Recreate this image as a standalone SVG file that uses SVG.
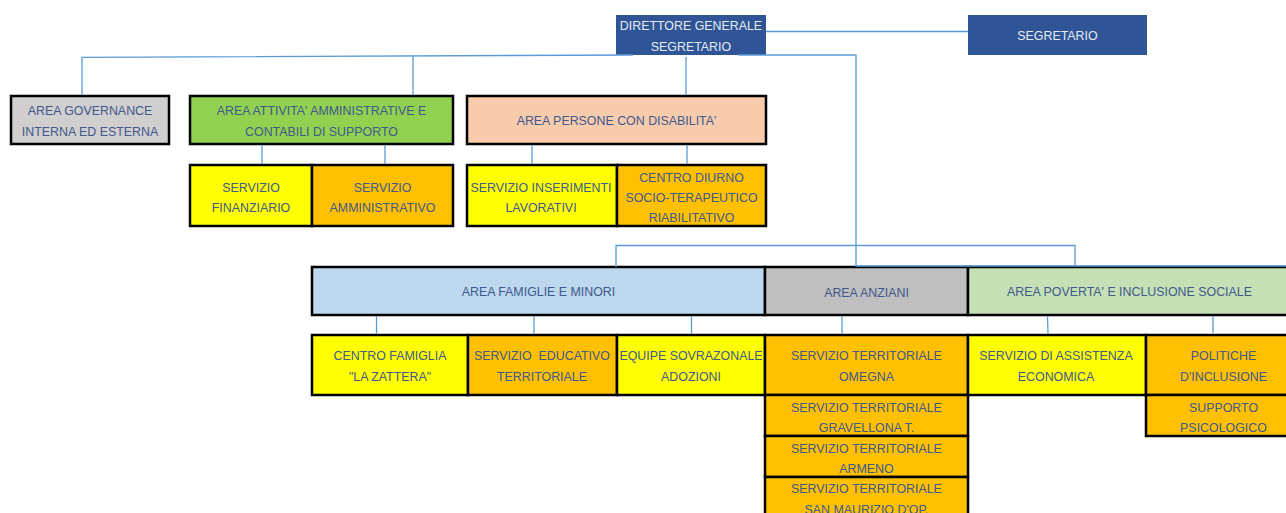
<svg xmlns="http://www.w3.org/2000/svg" width="1286" height="513" viewBox="0 0 1286 513">
<style>
.b{stroke:#000;stroke-width:2.5}
.d{fill:#2F5597}
.gr{fill:#D0CECE}
.gn{fill:#92D050}
.pk{fill:#F8CBAD}
.bl{fill:#BDD7EE}
.g2{fill:#BFBFBF}
.lg{fill:#C5E0B4}
.y{fill:#FFFF00}
.o{fill:#FFC000}
text{font-family:"Liberation Sans",Arial,sans-serif;font-size:12.4px;fill:#41598C;text-anchor:middle;white-space:pre}
.w{fill:#E6EAF2}
.c{fill:none;stroke:#5B9BD5;stroke-width:1.3}
</style>
<rect width="1286" height="513" fill="#fff"/>
<g id="dg"><rect class="d" x="616" y="15" width="150" height="40"/><text class="w" x="691" y="30">DIRETTORE GENERALE</text><text class="w" x="691" y="50.5">SEGRETARIO</text></g>
<g id="segretario"><rect class="d" x="968" y="15" width="179" height="40"/><text class="w" x="1057.5" y="40">SEGRETARIO</text></g>
<g id="governance"><rect class="gr b" x="11" y="96" width="158" height="48"/><text x="90" y="115">AREA GOVERNANCE</text><text x="90" y="135.5">INTERNA ED ESTERNA</text></g>
<g id="attivita"><rect class="gn b" x="190" y="96" width="263" height="48"/><text x="321.5" y="115">AREA ATTIVITA' AMMINISTRATIVE E</text><text x="321.5" y="135.5">CONTABILI DI SUPPORTO</text></g>
<g id="disabilita"><rect class="pk b" x="467" y="96" width="299" height="48"/><text x="616.5" y="125">AREA PERSONE CON DISABILITA'</text></g>
<g id="finanziario"><rect class="y b" x="190" y="165" width="122" height="61"/><text x="251" y="191.5">SERVIZIO</text><text x="251" y="212">FINANZIARIO</text></g>
<g id="amministrativo"><rect class="o b" x="312" y="165" width="141" height="61"/><text x="382.5" y="191.5">SERVIZIO</text><text x="382.5" y="212">AMMINISTRATIVO</text></g>
<g id="inserimenti"><rect class="y b" x="467" y="165" width="150" height="61"/><text x="541" y="191.5">SERVIZIO INSERIMENTI</text><text x="541" y="212">LAVORATIVI</text></g>
<g id="diurno"><rect class="o b" x="617" y="165" width="149" height="61"/><text x="691.5" y="181.5">CENTRO DIURNO</text><text x="691.5" y="201.5">SOCIO-TERAPEUTICO</text><text x="691.5" y="221.5">RIABILITATIVO</text></g>
<g id="famiglie"><rect class="bl b" x="312" y="267" width="453" height="48"/><text x="538.5" y="296">AREA FAMIGLIE E MINORI</text></g>
<g id="anziani"><rect class="g2 b" x="765" y="267" width="203" height="48"/><text x="866.5" y="296.5">AREA ANZIANI</text></g>
<g id="poverta"><rect class="lg b" x="968" y="267" width="330" height="48"/><text x="1129.5" y="296">AREA POVERTA' E INCLUSIONE SOCIALE</text></g>
<g id="zattera"><rect class="y b" x="312" y="335" width="156" height="60"/><text x="390" y="360">CENTRO FAMIGLIA</text><text x="390" y="381">"LA ZATTERA"</text></g>
<g id="educativo"><rect class="o b" x="468" y="335" width="149" height="60"/><text x="542" y="360">SERVIZIO  EDUCATIVO</text><text x="542" y="381">TERRITORIALE</text></g>
<g id="equipe"><rect class="y b" x="617" y="335" width="148" height="60"/><text x="691" y="360">EQUIPE SOVRAZONALE</text><text x="691" y="381">ADOZIONI</text></g>
<g id="omegna"><rect class="o b" x="765" y="335" width="203" height="60"/><text x="866.5" y="360">SERVIZIO TERRITORIALE</text><text x="866.5" y="381">OMEGNA</text></g>
<g id="assistenza"><rect class="y b" x="968" y="335" width="178" height="60"/><text x="1056" y="360">SERVIZIO DI ASSISTENZA</text><text x="1056" y="381">ECONOMICA</text></g>
<g id="politiche"><rect class="o b" x="1146" y="335" width="155" height="60"/><text x="1223.5" y="360">POLITICHE</text><text x="1223.5" y="381">D'INCLUSIONE</text></g>
<g id="gravellona"><rect class="o b" x="765" y="395" width="203" height="41"/><text x="866.5" y="411.5">SERVIZIO TERRITORIALE</text><text x="866.5" y="431.5">GRAVELLONA T.</text></g>
<g id="armeno"><rect class="o b" x="765" y="436" width="203" height="41"/><text x="866.5" y="452.5">SERVIZIO TERRITORIALE</text><text x="866.5" y="473">ARMENO</text></g>
<g id="sanmaurizio"><rect class="o b" x="765" y="477" width="203" height="45"/><text x="866.5" y="493">SERVIZIO TERRITORIALE</text><text x="866.5" y="514">SAN MAURIZIO D'OP.</text></g>
<g id="supporto"><rect class="o b" x="1146" y="395" width="155" height="41"/><text x="1223.5" y="411.5">SUPPORTO</text><text x="1223.5" y="432">PSICOLOGICO</text></g>
<g id="connectors">
<path class="c" d="M766 31.5H968"/>
<path class="c" d="M82 95V57.3L633 55"/>
<path class="c" d="M413 55V95"/>
<path class="c" d="M686 57V95"/>
<path class="c" d="M738 55H856V266H1286"/>
<path class="c" d="M616 267V245.5H1075V266"/>
<path class="c" d="M262 145V164M385 145V164M532 145V164M687 145V164"/>
<path class="c" d="M376.5 316V334M534 316V334M691.5 316V334M842 316V334M1047.5 316L1048 334M1213 316V333"/>
</g>
</svg>
